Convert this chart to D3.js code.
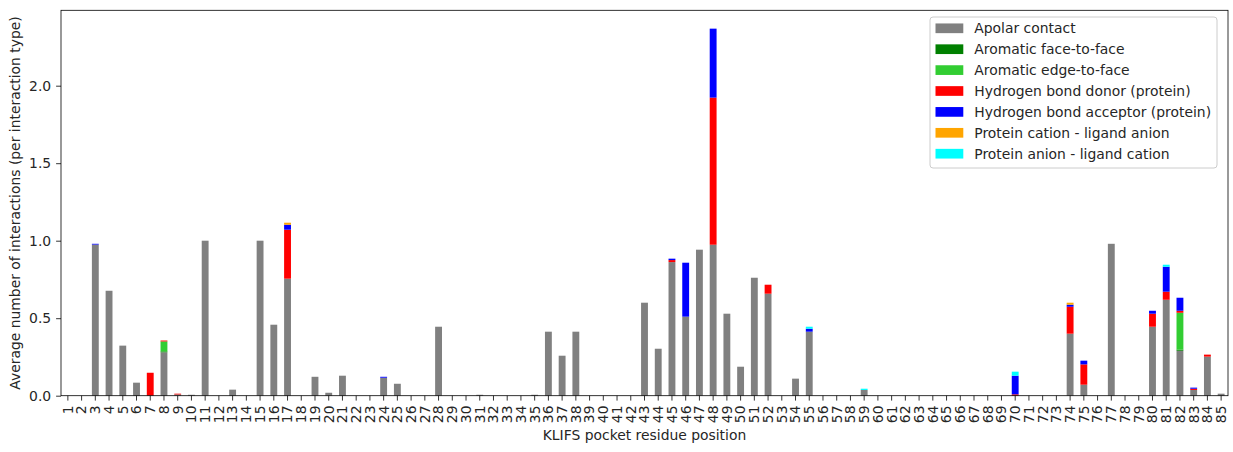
<!DOCTYPE html>
<html>
<head>
<meta charset="utf-8">
<script src="https://cdn.jsdelivr.net/npm/d3@7"></script>
<style>
  body { margin: 0; background: #fff; }
  text { font-family: "DejaVu Sans", sans-serif; fill: #262626; }
</style>
</head>
<body>
<div id="chart"></div>
<script>
// KLIFS pocket positions 1..85
const positions = d3.range(1, 86).map(String);

// one value per position (rows of 10)
const apolar = [
  0, 0, 0.975, 0.677, 0.323, 0.084, 0, 0.28, 0.008, 0.006,
  1.0, 0, 0.039, 0, 1.0, 0.458, 0.755, 0, 0.122, 0.019,
  0.129, 0, 0, 0.116, 0.077, 0, 0, 0.445, 0, 0,
  0.006, 0, 0, 0, 0.006, 0.413, 0.258, 0.413, 0, 0,
  0, 0, 0.600, 0.303, 0.862, 0.510, 0.942, 0.974, 0.529, 0.187,
  0.761, 0.658, 0, 0.110, 0.413, 0, 0, 0, 0.037, 0,
  0, 0, 0, 0, 0, 0, 0, 0, 0, 0,
  0, 0, 0, 0.400, 0.071, 0, 0.980, 0, 0, 0.445,
  0.619, 0.290, 0.037, 0.252, 0.013
];
const aromaticFace = [
  0, 0, 0, 0, 0, 0, 0, 0.006, 0, 0,
  0, 0, 0, 0, 0, 0, 0, 0, 0, 0,
  0, 0, 0, 0, 0, 0, 0, 0, 0, 0,
  0, 0, 0, 0, 0, 0, 0, 0, 0, 0,
  0, 0, 0, 0, 0, 0, 0, 0, 0, 0,
  0, 0, 0, 0, 0, 0, 0, 0, 0, 0,
  0, 0, 0, 0, 0, 0, 0, 0, 0, 0,
  0, 0, 0, 0, 0, 0, 0, 0, 0, 0,
  0, 0.007, 0, 0, 0
];
const aromaticEdge = [
  0, 0, 0, 0, 0, 0, 0, 0.064, 0, 0,
  0, 0, 0, 0, 0, 0, 0, 0, 0, 0,
  0, 0, 0, 0, 0, 0, 0, 0, 0, 0,
  0, 0, 0, 0, 0, 0, 0, 0, 0, 0,
  0, 0, 0, 0, 0, 0, 0, 0, 0, 0,
  0, 0, 0, 0, 0, 0, 0, 0, 0, 0,
  0, 0, 0, 0, 0, 0, 0, 0, 0, 0,
  0, 0, 0, 0, 0, 0, 0, 0, 0, 0,
  0, 0.238, 0, 0, 0
];
const hbondDonor = [
  0, 0, 0, 0, 0, 0, 0.148, 0.006, 0.005, 0,
  0, 0, 0, 0, 0, 0, 0.316, 0, 0, 0,
  0, 0, 0, 0, 0, 0, 0, 0, 0, 0,
  0, 0, 0, 0, 0, 0, 0, 0, 0, 0,
  0, 0, 0, 0, 0.013, 0, 0, 0.949, 0, 0,
  0, 0.058, 0, 0, 0, 0, 0, 0, 0, 0,
  0, 0, 0, 0, 0, 0, 0, 0, 0, 0.009,
  0, 0, 0, 0.174, 0.131, 0, 0, 0, 0, 0.084,
  0.052, 0.013, 0.008, 0.013, 0
];
const hbondAcceptor = [
  0, 0, 0.005, 0, 0, 0, 0, 0, 0, 0,
  0, 0, 0, 0, 0, 0, 0.032, 0, 0, 0,
  0, 0, 0, 0.006, 0, 0, 0, 0, 0, 0,
  0, 0, 0, 0, 0, 0, 0, 0, 0, 0,
  0, 0, 0, 0, 0.009, 0.348, 0, 0.445, 0, 0,
  0, 0, 0, 0, 0.019, 0, 0, 0, 0, 0,
  0, 0, 0, 0, 0, 0, 0, 0, 0, 0.120,
  0, 0, 0, 0.013, 0.024, 0, 0, 0, 0, 0.019,
  0.161, 0.084, 0.007, 0, 0
];
const cationAnion = [
  0, 0, 0, 0, 0, 0, 0, 0, 0, 0,
  0, 0, 0, 0, 0, 0, 0.013, 0, 0, 0,
  0, 0, 0, 0, 0, 0, 0, 0, 0, 0,
  0, 0, 0, 0, 0, 0, 0, 0, 0, 0,
  0, 0, 0, 0, 0, 0, 0, 0, 0, 0,
  0, 0, 0, 0, 0, 0, 0, 0, 0, 0,
  0, 0, 0, 0, 0, 0, 0, 0, 0, 0,
  0, 0, 0, 0.013, 0, 0, 0, 0, 0, 0,
  0, 0, 0, 0, 0
];
const anionCation = [
  0, 0, 0, 0, 0, 0, 0, 0, 0, 0,
  0, 0, 0, 0, 0, 0, 0, 0, 0, 0,
  0, 0, 0, 0, 0, 0, 0, 0, 0, 0,
  0, 0, 0, 0, 0, 0, 0, 0, 0, 0,
  0, 0, 0, 0, 0, 0, 0, 0, 0, 0,
  0, 0, 0, 0, 0.013, 0, 0, 0, 0.008, 0,
  0, 0, 0, 0, 0, 0, 0, 0, 0, 0.026,
  0, 0, 0, 0, 0, 0, 0, 0, 0, 0,
  0.013, 0, 0, 0, 0
];

const seriesNames = [
  "Apolar contact",
  "Aromatic face-to-face",
  "Aromatic edge-to-face",
  "Hydrogen bond donor (protein)",
  "Hydrogen bond acceptor (protein)",
  "Protein cation - ligand anion",
  "Protein anion - ligand cation"
];
const seriesValues = [apolar, aromaticFace, aromaticEdge, hbondDonor, hbondAcceptor, cationAnion, anionCation];
const seriesColors = ["#808080", "#008000", "#32cd32", "#ff0000", "#0000ff", "#ffa500", "#00ffff"];
const yTicks = [0, 0.5, 1.0, 1.5, 2.0];

// table for d3.stack
const table = positions.map((p, i) => {
  const row = { pos: p };
  seriesNames.forEach((s, k) => row[s] = seriesValues[k][i]);
  return row;
});

const width = 1233, height = 452;
const margin = { left: 61, right: 5, top: 10.3, bottom: 56.3 };
const fs = 13.9;

const svg = d3.select("#chart").append("svg")
  .attr("width", width)
  .attr("height", height);

const stacked = d3.stack().keys(seriesNames)(table);
const ymax = d3.max(table, d => d3.sum(seriesNames, s => d[s])) * 1.05;

const x = d3.scaleBand()
  .domain(positions)
  .range([margin.left, width - margin.right])
  .paddingInner(0.5)
  .paddingOuter(0.25);
const y = d3.scaleLinear()
  .domain([0, ymax])
  .range([height - margin.bottom, margin.top]);

// bars
svg.append("g").selectAll("g")
  .data(stacked)
  .enter().append("g")
  .attr("fill", (d, i) => seriesColors[i])
  .selectAll("rect")
  .data(d => d)
  .enter().append("rect")
  .attr("x", d => x(d.data.pos))
  .attr("width", x.bandwidth())
  .attr("y", d => y(d[1]))
  .attr("height", d => Math.max(0, y(d[0]) - y(d[1])));

// axes
const xAxis = svg.append("g")
  .attr("transform", `translate(0,${height - margin.bottom})`)
  .call(d3.axisBottom(x).tickSize(4.9).tickPadding(4.9));
xAxis.selectAll("text")
  .attr("transform", "rotate(-90)")
  .attr("text-anchor", "end")
  .attr("x", -9.8)
  .attr("y", 0)
  .attr("dy", "0.35em");

const yAxis = svg.append("g")
  .attr("transform", `translate(${margin.left},0)`)
  .call(d3.axisLeft(y).tickValues(yTicks).tickFormat(d3.format(".1f")).tickSize(4.9).tickPadding(4.9));

[xAxis, yAxis].forEach(a => {
  a.select(".domain").remove();
  a.selectAll("line").attr("stroke", "#000").attr("stroke-width", 0.8);
  a.selectAll("text").attr("font-size", fs).attr("font-family", "DejaVu Sans").attr("fill", "#262626");
});

// frame
svg.append("rect")
  .attr("x", margin.left)
  .attr("y", margin.top)
  .attr("width", width - margin.right - margin.left)
  .attr("height", height - margin.bottom - margin.top)
  .attr("fill", "none")
  .attr("stroke", "#000")
  .attr("stroke-width", 0.8);

// axis labels
svg.append("text")
  .attr("x", (margin.left + width - margin.right) / 2)
  .attr("y", 439.5)
  .attr("text-anchor", "middle")
  .attr("font-size", fs)
  .text("KLIFS pocket residue position");

svg.append("text")
  .attr("transform", `translate(20,${(margin.top + height - margin.bottom) / 2}) rotate(-90)`)
  .attr("text-anchor", "middle")
  .attr("font-size", fs)
  .text("Average number of interactions (per interaction type)");

// legend
const legend = svg.append("g").attr("transform", "translate(930,17)");
legend.append("rect")
  .attr("width", 287)
  .attr("height", 151)
  .attr("rx", 3)
  .attr("fill", "#fff")
  .attr("fill-opacity", 0.8)
  .attr("stroke", "#cccccc")
  .attr("stroke-width", 1);

const items = legend.selectAll(".item")
  .data(seriesNames)
  .enter().append("g")
  .attr("class", "item")
  .attr("transform", (d, i) => `translate(0,${11.3 + i * 20.9})`);
items.append("rect")
  .attr("x", 5.5)
  .attr("y", -4.85)
  .attr("width", 27.8)
  .attr("height", 9.7)
  .attr("fill", (d, i) => seriesColors[i]);
items.append("text")
  .attr("x", 44.3)
  .attr("dy", "0.35em")
  .attr("font-size", fs)
  .text(d => d);
</script>
</body>
</html>
